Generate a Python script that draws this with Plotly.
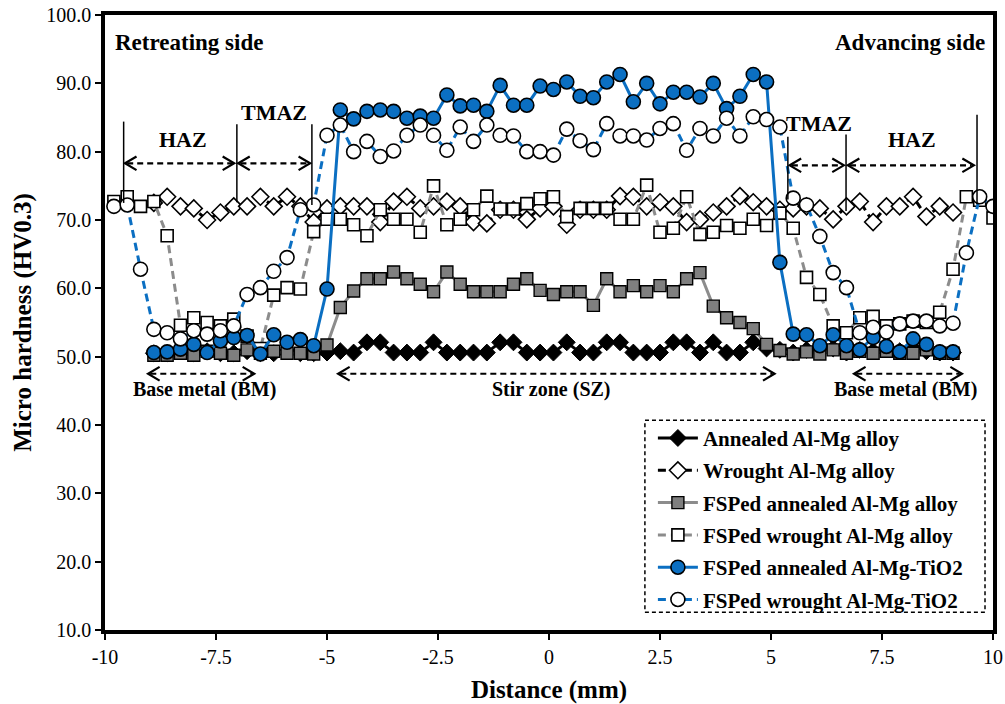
import plotly.graph_objects as go

N = None
# Distance grid (mm)
DIST = [-9.8, -9.5, -9.2, -8.9, -8.6, -8.3, -8.0, -7.7, -7.4, -7.1, -6.8, -6.5, -6.2, -5.9, -5.6, -5.3, -5.0,
        -4.7, -4.4, -4.1, -3.8, -3.5, -3.2, -2.9, -2.6, -2.3, -2.0, -1.7, -1.4, -1.1, -0.8, -0.5, -0.2,
        0.1, 0.4, 0.7, 1.0, 1.3, 1.6, 1.9, 2.2, 2.5, 2.8, 3.1, 3.4, 3.7, 4.0, 4.3, 4.6,
        4.9, 5.2, 5.5, 5.8, 6.1, 6.4, 6.7, 7.0, 7.3, 7.6, 7.9, 8.2, 8.5, 8.8, 9.1, 9.4, 9.7, 10.0]

annealed = [N, N, N,
            50.5, 50.5, 50.8, 50.5, 50.8, 50.5, 50.5, 50.8, 50.5, 50.5, 50.8, 50.5, 50.5, 50.6,
            50.8, 50.6, 52.1, 52.1, 50.6, 50.6, 50.6, 52.1, 50.6, 50.6, 50.6, 50.6, 52.1, 52.1, 50.6, 50.6,
            50.6, 52.1, 50.6, 50.6, 52.1, 52.1, 50.6, 50.6, 50.6, 52.1, 52.1, 50.6, 52.1, 50.6, 50.6, 52.1,
            51.2, 51.0, 50.6, 51.0, 50.8, 51.2, 50.6, 51.0, 50.8, 51.2, 50.8, 51.2, 50.8, 50.6, 50.6,
            N, N, N]

wrought = [N, N, N,
           72.5, 73.4, 72.0, 71.7, 70.0, 71.1, 72.0, 72.0, 73.4, 72.0, 73.4, 72.0, 69.7, 71.7,
           72.0, 72.0, 72.0, 69.7, 72.7, 73.4, 71.7, 72.0, 72.7, 72.0, 69.7, 69.5, 71.5, 71.5, 70.1, 71.7,
           72.0, 69.3, 71.5, 71.5, 71.5, 73.5, 73.4, 72.0, 72.6, 72.0, 69.7, 70.1, 71.1, 72.0, 73.5, 72.6,
           72.0, 71.5, 71.7, 72.0, 71.7, 70.1, 72.0, 72.7, 69.7, 72.0, 72.0, 73.4, 70.5, 72.0, 71.1,
           N, N, N]

fsp_annealed = [N, N, N,
                50.2, 50.2, 50.5, 50.2, 50.8, 50.5, 50.2, 51.0, 50.5, 50.8, 50.5, 50.5, 50.4, 51.7,
                57.2, 59.6, 61.4, 61.4, 62.4, 61.4, 60.6, 59.5, 62.4, 60.6, 59.5, 59.5, 59.5, 60.6, 61.4, 59.7,
                59.1, 59.5, 59.5, 57.5, 61.4, 59.5, 60.4, 59.5, 60.4, 59.5, 61.4, 62.3, 57.4, 55.7, 55.0, 54.1,
                51.8, 50.9, 50.4, 50.7, 50.4, 51.0, 50.5, 50.8, 50.5, 50.8, 50.5, 50.5, 51.0, 50.5, 50.5,
                N, N, N]

fsp_wrought = [72.7, 73.4, 72.0, 72.7, 67.7, 54.6, 55.7, 55.0, 54.5, 55.5, 53.0, 51.2, 59.0, 60.1, 59.9, 68.3, 70.1,
               70.1, 69.3, 67.7, 71.5, 70.1, 70.1, 68.2, 75.0, 69.3, 70.1, 71.5, 73.5, 71.6, 71.6, 72.4, 73.1,
               73.4, 70.5, 71.7, 71.7, 71.7, 70.1, 70.1, 75.1, 68.2, 68.8, 73.4, 67.9, 68.2, 69.2, 68.8, 70.1,
               69.2, 71.0, 68.8, 61.6, 59.1, 54.5, 53.5, 55.7, 55.9, 54.5, 54.8, 55.2, 55.0, 56.5, 62.8, 73.4, 72.9, 70.3]

fsp_ann_tio2 = [N, N, N,
                50.6, 50.7, 51.1, 51.8, 50.6, 52.3, 52.8, 53.1, 50.4, 53.2, 52.1, 52.5, 51.6, 59.9,
                86.1, 84.8, 85.9, 86.1, 85.9, 84.9, 85.2, 84.9, 88.3, 86.7, 86.8, 85.9, 89.7, 86.8, 86.8, 89.6,
                89.1, 90.2, 88.1, 87.9, 90.2, 91.3, 87.3, 90.0, 87.0, 88.7, 88.7, 88.0, 90.0, 86.3, 88.1, 91.3,
                90.2, 63.8, 53.3, 53.2, 51.6, 53.2, 51.6, 51.0, 52.8, 51.5, 50.7, 52.6, 51.8, 50.7, 50.7,
                N, N, N]

fsp_wr_tio2 = [72.0, 72.2, 62.8, 54.0, 53.5, 52.6, 53.8, 53.3, 53.8, 54.5, 59.1, 60.1, 62.5, 64.5, 71.5, 72.2, 82.4,
               83.9, 80.0, 81.5, 79.3, 80.1, 82.4, 83.9, 82.4, 80.2, 83.6, 81.5, 83.9, 82.4, 82.3, 80.0, 80.0,
               79.5, 83.3, 81.6, 80.3, 84.1, 82.3, 82.3, 81.7, 83.4, 84.1, 80.2, 83.4, 82.3, 84.9, 82.3, 85.1,
               84.7, 83.6, 73.2, 72.2, 67.6, 62.3, 60.1, 53.5, 54.3, 53.6, 54.8, 55.2, 55.2, 54.5, 54.9, 65.2, 73.4, 72.0]

SERIES_NAMES = ["Annealed Al-Mg alloy", "Wrought Al-Mg alloy", "FSPed annealed Al-Mg alloy",
                "FSPed wrought Al-Mg alloy", "FSPed annealed Al-Mg-TiO2", "FSPed wrought Al-Mg-TiO2"]

X_TICKS = [-10, -7.5, -5, -2.5, 0, 2.5, 5, 7.5, 10]
X_TICK_LABELS = ["-10", "-7.5", "-5", "-2.5", "0", "2.5", "5", "7.5", "10"]
Y_TICKS = [10, 20, 30, 40, 50, 60, 70, 80, 90, 100]
Y_TICK_LABELS = ["10.0", "20.0", "30.0", "40.0", "50.0", "60.0", "70.0", "80.0", "90.0", "100.0"]

# Zone annotations: (text, x, y)
ZONE_LABELS = [("HAZ", -8.24, 81.8), ("TMAZ", -6.19, 85.8), ("TMAZ", 6.08, 84.1), ("HAZ", 8.17, 81.8),
               ("Base metal (BM)", -7.75, 45.2), ("Stir zone (SZ)", 0.06, 45.2), ("Base metal (BM)", 8.02, 45.2)]
# Boundary lines: (x, y_bottom, y_top)
BOUNDARIES = [(-9.58, 72.5, 84.4), (-7.03, 72.6, 84.0), (-5.34, 72.2, 84.0),
              (5.38, 73.0, 82.2), (6.69, 71.3, 82.5), (9.64, 72.3, 85.4)]
# Double arrows: (x_start, x_end, y)
ARROWS = [(-9.55, -7.09, 78.3), (-7.0, -5.38, 78.3), (5.42, 6.64, 78.0), (6.73, 9.57, 78.0),
          (-9.03, -6.64, 47.5), (-4.75, 5.08, 47.5), (6.87, 9.30, 47.5)]

BLUE = "#0b6fc2"
GRAY_LINE = "#8c8c8c"
GRAY_FILL = "#7f7f7f"
SERIF = "Liberation Serif"

styles = [
    dict(line=dict(color="black", width=3), marker=dict(symbol="diamond", size=13, color="black",
                                                        line=dict(color="black", width=1))),
    dict(line=dict(color="black", width=3, dash="8px,5px"),
         marker=dict(symbol="diamond", size=13, color="white", line=dict(color="black", width=1.6))),
    dict(line=dict(color=GRAY_LINE, width=3), marker=dict(symbol="square", size=12, color=GRAY_FILL,
                                                          line=dict(color="black", width=1.4))),
    dict(line=dict(color=GRAY_LINE, width=3, dash="8px,5px"),
         marker=dict(symbol="square", size=12, color="white", line=dict(color="black", width=1.6))),
    dict(line=dict(color=BLUE, width=3), marker=dict(symbol="circle", size=14, color=BLUE,
                                                     line=dict(color="black", width=1.6))),
    dict(line=dict(color=BLUE, width=3, dash="8px,5px"),
         marker=dict(symbol="circle", size=14, color="white", line=dict(color="black", width=1.6))),
]

fig = go.Figure()
for i, (name, ys) in enumerate(zip(SERIES_NAMES, [annealed, wrought, fsp_annealed, fsp_wrought,
                                                   fsp_ann_tio2, fsp_wr_tio2])):
    fig.add_trace(go.Scatter(x=DIST, y=ys, name=name, mode="lines+markers", legendgroup=f"g{i}",
                             connectgaps=False, **styles[i]))

shapes = []
for xb, y0, y1 in BOUNDARIES:
    shapes.append(dict(type="line", xref="x", yref="y", x0=xb, x1=xb, y0=y0, y1=y1,
                       line=dict(color="black", width=1.5)))
hx, hy = 0.26, 1.0
for xa, xb, ya in ARROWS:
    shapes.append(dict(type="line", xref="x", yref="y", x0=xa + 0.05, x1=xb - 0.05, y0=ya, y1=ya,
                       line=dict(color="black", width=2.2, dash="6px,4px")))
    shapes.append(dict(type="path", xref="x", yref="y",
                       path=f"M {xa + hx} {ya + hy} L {xa} {ya} L {xa + hx} {ya - hy}",
                       line=dict(color="black", width=2.2)))
    shapes.append(dict(type="path", xref="x", yref="y",
                       path=f"M {xb - hx} {ya + hy} L {xb} {ya} L {xb - hx} {ya - hy}",
                       line=dict(color="black", width=2.2)))
# dashed legend frame
shapes.append(dict(type="rect", xref="paper", yref="paper", x0=0.608, x1=0.991, y0=0.029, y1=0.341,
                   line=dict(color="black", width=1.5, dash="4px,3px"), fillcolor="rgba(0,0,0,0)"))

annotations = []
for txt, xa, ya in ZONE_LABELS:
    big = txt in ("HAZ", "TMAZ")
    annotations.append(dict(text=txt, x=xa, y=ya, xref="x", yref="y", showarrow=False,
                            font=dict(family=SERIF, size=22 if big else 20, color="black", weight="bold")))
annotations.append(dict(text="Retreating side", x=0.009, y=0.955, xref="paper", yref="paper",
                        xanchor="left", yanchor="middle", showarrow=False,
                        font=dict(family=SERIF, size=23, color="black", weight="bold")))
annotations.append(dict(text="Advancing side", x=0.993, y=0.955, xref="paper", yref="paper",
                        xanchor="right", yanchor="middle", showarrow=False,
                        font=dict(family=SERIF, size=23, color="black", weight="bold")))

fig.update_layout(
    width=1005, height=704,
    margin=dict(l=105, r=12, t=15, b=74, autoexpand=False),
    paper_bgcolor="white", plot_bgcolor="white",
    showlegend=True,
    legend=dict(x=0.617, y=0.345, xanchor="left", yanchor="top", bgcolor="rgba(0,0,0,0)",
                traceorder="grouped", tracegroupgap=2, itemwidth=40,
                font=dict(family=SERIF, size=21, color="black", weight="bold")),
    shapes=shapes, annotations=annotations,
    xaxis=dict(range=[-10, 10], tickvals=X_TICKS, ticktext=X_TICK_LABELS, showgrid=False, zeroline=False,
               showline=True, linecolor="black", linewidth=3.5, mirror=True, automargin=False,
               ticks="outside", ticklen=6, tickwidth=2, tickcolor="black", ticklabeloverflow="allow",
               tickfont=dict(family=SERIF, size=20, color="black"),
               title=dict(text="Distance (mm)", standoff=20,
                          font=dict(family=SERIF, size=25, color="black", weight="bold"))),
    yaxis=dict(range=[10, 100], tickvals=Y_TICKS, ticktext=Y_TICK_LABELS, showgrid=False, zeroline=False,
               showline=True, linecolor="black", linewidth=3.5, mirror=True, automargin=False,
               ticks="outside", ticklen=6, tickwidth=2, tickcolor="black", ticklabeloverflow="allow",
               tickfont=dict(family=SERIF, size=20, color="black"),
               title=dict(text="Micro hardness (HV0.3)", standoff=9,
                          font=dict(family=SERIF, size=25, color="black", weight="bold"))),
)

# remove the browser's default 8px body margin so the figure sits at the window's top-left corner
fig.write_html("out.html", config={"displayModeBar": False},
               post_script="document.body.style.margin='0px';")
